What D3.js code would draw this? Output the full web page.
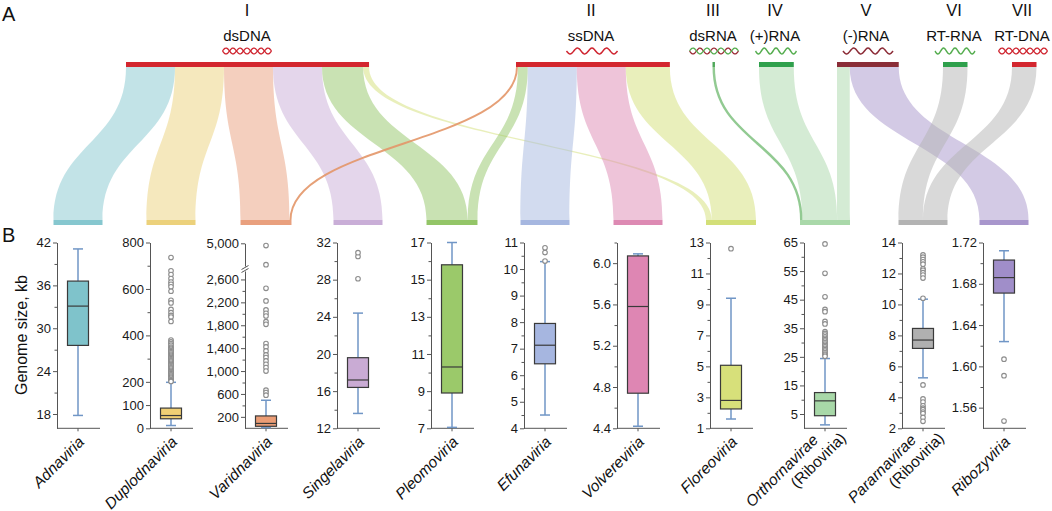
<!DOCTYPE html>
<html><head><meta charset="utf-8">
<script src="https://cdn.jsdelivr.net/npm/d3@7"></script>
<style>
body{margin:0;background:#fff}
svg{display:block}
text{font-family:"Liberation Sans",Arial,Helvetica,sans-serif}
</style>
</head><body>
<svg id="chart" width="1052" height="511"></svg>
<script>
// ================= DATA =================
const genomeTypes = ["dsDNA","ssDNA","dsRNA","(+)RNA","(-)RNA","RT-RNA","RT-DNA"];
const groupNumerals = ["I","II","III","IV","V","VI","VII"];
const categories = ["Adnaviria","Duplodnaviria","Varidnaviria","Singelaviria","Pleomoviria","Efunaviria","Volvereviria","Floreoviria","Orthornavirae","Pararnavirae","Ribozyviria"];
const categorySubLabels = ["","","","","","","","","(Riboviria)","(Riboviria)",""];

// sankey flows: genome type index -> category index
const flowSource = [0,0,0,0,0,0, 1,1,1,1,1, 2,3,4,4,5,6];
const flowTarget = [0,1,2,3,4,7, 2,4,5,6,7, 8,8,8,10,9,9];
const flowValue  = [10,10,10,10,8.4,1.2, 0.4,2,10,10,9, 0.5,7.1,2.6,10,5,5];

// box plot statistics (genome size, kb)
const whiskerLow  = [17.8, 12, 12, 13.6, 7.05, 4.5, 4.42, 1.6, 1.2, 5.26, 1.624];
const quartile1   = [27.6, 41, 35, 16.4, 8.9, 6.43, 4.74, 2.25, 4.4, 7.16, 1.671];
const medians     = [33.1, 55, 85, 17.2, 10.3, 7.13, 5.58, 2.8, 9.6, 7.7, 1.686];
const quartile3   = [36.6, 87, 216, 19.6, 15.8, 7.95, 6.07, 5.07, 12.5, 8.45, 1.703];
const whiskerHigh = [41.1, 198, 490, 24.4, 17.0, 10.28, 6.09, 9.4, 24.4, 10.34, 1.712];
const outliers = [
  [],
  [735,678,662,645,630,620,609,590,551,540,512,498,486,479,460,
   380,372,365,358,350,345,340,335,330,325,320,315,310,305,300,295,290,285,280,275,270,265,260,255,250,245,240,235,230,225,220,215,210,205,202],
  [4800,3100,2445,2225,2068,2010,1962,1862,1816,1480,1422,1352,1282,1235,1176,1118,1060,1000,666,625,578],
  [28.1,30.5,30.9],
  [],
  [10.3,10.62,10.8],
  [],
  [12.6],
  [64.5,54.2,46,41.6,40.8,37.4,36.5,33.8,33.2,32.6,32,31.5,31,30.5,30,29.5,29,28.5,28,27.5,27,26.5,26,25.6,25.2],
  [13.2,13.05,12.9,12.75,12.6,12.3,12.2,12.05,11.9,11.7,10.4,4.8,3.9,3.7,3.45,3.3,3.2,3.05,2.95,2.7,2.45],
  [1.607,1.591,1.547]
];

// axis domains and tick labels per panel
const axisDomains = [[16,42],[0,800],[0,2800,5000],[12,32],[7,17],[4,11],[4.4,6.2],[1,13],[0,65],[2,14],[1.54,1.72]];
const majorTicks = [
  [18,24,30,36,42],
  [0,100,200,400,600,800],
  [200,600,1000,1400,1800,2200,2600,5000],
  [12,16,20,24,28,32],
  [7,9,11,13,15,17],
  [4,5,6,7,8,9,10,11],
  [4.4,4.8,5.2,5.6,6.0],
  [1,3,5,7,9,11,13],
  [5,15,25,35,45,55,65],
  [2,4,6,8,10,12,14],
  [1.56,1.60,1.64,1.68,1.72]
];
const minorTicks = [
  [21,27,33,39],
  [300,500,700],
  [400,800,1200,1600,2000,2400],
  [14,18,22,26,30],
  [8,10,12,14,16],
  [4.5,5.5,6.5,7.5,8.5,9.5,10.5],
  [4.6,5.0,5.4,5.8,6.2],
  [2,4,6,8,10,12],
  [10,20,30,40,50,60],
  [3,5,7,9,11,13],
  [1.58,1.62,1.66,1.70]
];
const tickFormats = ["d","d",",","d","d","d",".1f","d","d","d",".2f"];

// ================= LAYOUT / STYLE =================
const svg = d3.select("#chart");
const centers = [78,171,266,358,452,545,638,731,825,923,1004];
const topLeft = [126,516,712.5,759,837,943,1012];
const labelX = [247,591,713,775,866,954,1022];
const waveX = [247,592,714,776,868,955,1023];
const waveW = [49,51,49,41,50,40,49];
const waveKind = ["helix","single","helix2","single","single","single","helix"];
const waveColor = ["#cf2530","#cf2530","#9b2a35","#55ad4f","#8c2c37","#55ad4f","#cf2530"];
const topColor = ["#d3262e","#d3262e","#4fa85a","#2fa04c","#8a2d37","#2fa04c","#d3262e"];
const barColor = ["#86c7cf","#ecd17b","#e9a07e","#c9aed7","#93c567","#a6b7e0","#dd8ab3","#d3df78","#a9d8a9","#b3b3b3","#a896cc"];
const boxColor = ["#7fc3cb","#f0cf74","#eb9d76","#c9abd4","#9bc96a","#a6b6e0","#de86b3","#d7e07a","#a8d8a8","#b0b0b0","#a08ec9"];
const thinColor = ["#86c7cf","#ecd17b","#e39668","#c9aed7","#93c567","#a6b7e0","#dd8ab3","#d3df78","#86c486","#b3b3b3","#a896cc"];
const Y0 = 67, Y1 = 220;
const unit = d3.scaleLinear().domain([0,1]).range([0,4.9]);

// --- panel labels
svg.append("text").attr("x",2).attr("y",21).attr("font-size",20).attr("fill","#111").text("A");
svg.append("text").attr("x",2).attr("y",242).attr("font-size",20).attr("fill","#111").text("B");

// --- top labels
genomeTypes.forEach((g,i)=>{
  svg.append("text").attr("x",labelX[i]).attr("y",16).attr("text-anchor","middle")
    .attr("font-size",16.5).attr("fill","#111").text(groupNumerals[i]);
  svg.append("text").attr("x",labelX[i]).attr("y",41).attr("text-anchor","middle")
    .attr("font-size",15).attr("fill","#111").text(g);
});

// --- wave glyphs
const waveLine = d3.line().curve(d3.curveBasis);
genomeTypes.forEach((g,i)=>{
  const x0 = waveX[i]-waveW[i]/2, w = waveW[i], yc = 51;
  const periods = 3.5, n = 60;
  const strand = (phase)=> d3.range(n+1).map(k=>{
    const t=k/n; return [x0+t*w, yc+3*Math.sin(2*Math.PI*periods*t+phase)];
  });
  if (waveKind[i]==="single"){
    svg.append("path").attr("d",waveLine(strand(0))).attr("fill","none")
      .attr("stroke",waveColor[i]).attr("stroke-width",1.5);
  } else {
    const c2 = waveKind[i]==="helix2" ? "#55ad4f" : waveColor[i];
    svg.append("path").attr("d",waveLine(strand(0))).attr("fill","none")
      .attr("stroke",waveColor[i]).attr("stroke-width",1.3);
    svg.append("path").attr("d",waveLine(strand(Math.PI))).attr("fill","none")
      .attr("stroke",c2).attr("stroke-width",1.3);
  }
});

// --- sankey layout
const flows = flowSource.map((s,i)=>({s, t:flowTarget[i], v:flowValue[i], i}));
const srcTotals = genomeTypes.map((g,i)=>d3.sum(flows.filter(f=>f.s===i),f=>f.v));
const tgtTotals = categories.map((c,i)=>d3.sum(flows.filter(f=>f.t===i),f=>f.v));
genomeTypes.forEach((g,si)=>{
  let x = topLeft[si];
  flows.filter(f=>f.s===si).sort((a,b)=>a.t-b.t).forEach(f=>{ f.xa0=x; x+=unit(f.v); f.xa1=x; });
});
categories.forEach((c,ti)=>{
  let x = centers[ti]-unit(tgtTotals[ti])/2;
  flows.filter(f=>f.t===ti).sort((a,b)=>a.s-b.s).forEach(f=>{ f.xb0=x; x+=unit(f.v); f.xb1=x; });
});
const ym = (Y0+Y1)/2;
const ribbonPath = f => `M${f.xa0},${Y0}C${f.xa0},${ym} ${f.xb0},${ym} ${f.xb0},${Y1}L${f.xb1},${Y1}C${f.xb1},${ym} ${f.xa1},${ym} ${f.xa1},${Y0}Z`;
const centerPath = f => { const a=(f.xa0+f.xa1)/2, b=(f.xb0+f.xb1)/2; return `M${a},${Y0}C${a},${ym} ${b},${ym} ${b},${Y1}`; };

const gLinks = svg.append("g");
flows.filter(f=>f.v>=0.8).forEach(f=>{
  gLinks.append("path").attr("d",ribbonPath(f)).attr("fill",barColor[f.t]).attr("fill-opacity",0.5);
});
flows.filter(f=>f.v<0.8).forEach(f=>{
  gLinks.append("path").attr("d",centerPath(f)).attr("fill","none")
    .attr("stroke",thinColor[f.t]).attr("stroke-width",Math.max(1.8,unit(f.v))).attr("stroke-opacity",0.9);
});
genomeTypes.forEach((g,i)=>{
  svg.append("rect").attr("x",topLeft[i]).attr("y",Y0-5).attr("width",unit(srcTotals[i])).attr("height",5).attr("fill",topColor[i]);
});
categories.forEach((c,i)=>{
  svg.append("rect").attr("x",centers[i]-unit(tgtTotals[i])/2).attr("y",Y1).attr("width",unit(tgtTotals[i])).attr("height",5).attr("fill",barColor[i]);
});

// --- box plots
const yTop = 242.5, yBot = 428.3;
categories.forEach((cat,i)=>{
  const c = centers[i], ax = c-21;
  const dom = axisDomains[i];
  const rng = dom.length===3 ? [yBot,268,243.3] : [yBot,yTop];
  const y = d3.scaleLinear().domain(dom).range(rng);
  const g = svg.append("g");
  const aMaj = g.append("g").attr("transform",`translate(${ax},0)`)
    .call(d3.axisLeft(y).tickValues(majorTicks[i]).tickSize(4).tickSizeOuter(0).tickFormat(d3.format(tickFormats[i])));
  const aMin = g.append("g").attr("transform",`translate(${ax},0)`)
    .call(d3.axisLeft(y).tickValues(minorTicks[i]).tickSize(2.5).tickSizeOuter(0).tickFormat(""));
  aMin.select(".domain").remove();
  [aMaj,aMin].forEach(a=>{
    a.attr("font-family",null).attr("font-size",null);
    a.selectAll("line").attr("stroke","#555");
    a.select(".domain").attr("stroke","#555");
  });
  aMaj.selectAll("text").attr("font-size",13).attr("fill","#1a1a1a").attr("x",-6)
    .attr("font-family",'"Liberation Sans",Arial,sans-serif');
  g.append("line").attr("x1",ax).attr("x2",c+22).attr("y1",yBot).attr("y2",yBot).attr("stroke","#555");
  g.append("line").attr("x1",c).attr("x2",c).attr("y1",yBot).attr("y2",yBot+3).attr("stroke","#555");
  if (dom.length===3){
    g.append("rect").attr("x",ax-4).attr("y",266.5).attr("width",8).attr("height",5).attr("fill","#fff");
    g.append("line").attr("x1",ax-3.5).attr("y1",269.5).attr("x2",ax+3.5).attr("y2",265.5).attr("stroke","#555");
    g.append("line").attr("x1",ax-3.5).attr("y1",272.5).attr("x2",ax+3.5).attr("y2",268.5).attr("stroke","#555");
  }
  const wc = "#7096c6";
  g.append("line").attr("x1",c).attr("x2",c).attr("y1",y(quartile3[i])).attr("y2",y(whiskerHigh[i])).attr("stroke",wc).attr("stroke-width",1.5);
  g.append("line").attr("x1",c).attr("x2",c).attr("y1",y(quartile1[i])).attr("y2",y(whiskerLow[i])).attr("stroke",wc).attr("stroke-width",1.5);
  [whiskerHigh[i],whiskerLow[i]].forEach(v=>{
    g.append("line").attr("x1",c-5).attr("x2",c+5).attr("y1",y(v)).attr("y2",y(v)).attr("stroke",wc).attr("stroke-width",1.5);
  });
  g.append("rect").attr("x",c-10.5).attr("width",21).attr("y",y(quartile3[i]))
    .attr("height",y(quartile1[i])-y(quartile3[i])).attr("fill",boxColor[i]).attr("stroke","#3a3a3a").attr("stroke-width",1.2);
  g.append("line").attr("x1",c-10.5).attr("x2",c+10.5).attr("y1",y(medians[i])).attr("y2",y(medians[i])).attr("stroke","#3a3a3a").attr("stroke-width",1.2);
  g.selectAll("circle.o").data(outliers[i]).join("circle").attr("class","o")
    .attr("cx",c).attr("cy",d=>y(d)).attr("r",2.3).attr("fill","#fff").attr("stroke","#8c8c8c").attr("stroke-width",1.1);
  const lab = svg.append("g");
  const fs = 15.5;
  if (categorySubLabels[i]){
    lab.append("text").attr("transform",`translate(${c-6},441) rotate(-45)`).attr("text-anchor","end")
      .attr("font-size",fs).attr("font-style","italic").attr("fill","#111").text(cat);
    lab.append("text").attr("transform",`translate(${c+22},439) rotate(-45)`).attr("text-anchor","end")
      .attr("font-size",fs).attr("fill","#111").text(categorySubLabels[i]);
  } else {
    lab.append("text").attr("transform",`translate(${c+7},443) rotate(-45)`).attr("text-anchor","end")
      .attr("font-size",fs).attr("font-style","italic").attr("fill","#111").text(cat);
  }
});

svg.append("text").attr("transform","translate(27,335) rotate(-90)").attr("text-anchor","middle")
  .attr("font-size",16).attr("fill","#111").text("Genome size, kb");
</script>
</body></html>
